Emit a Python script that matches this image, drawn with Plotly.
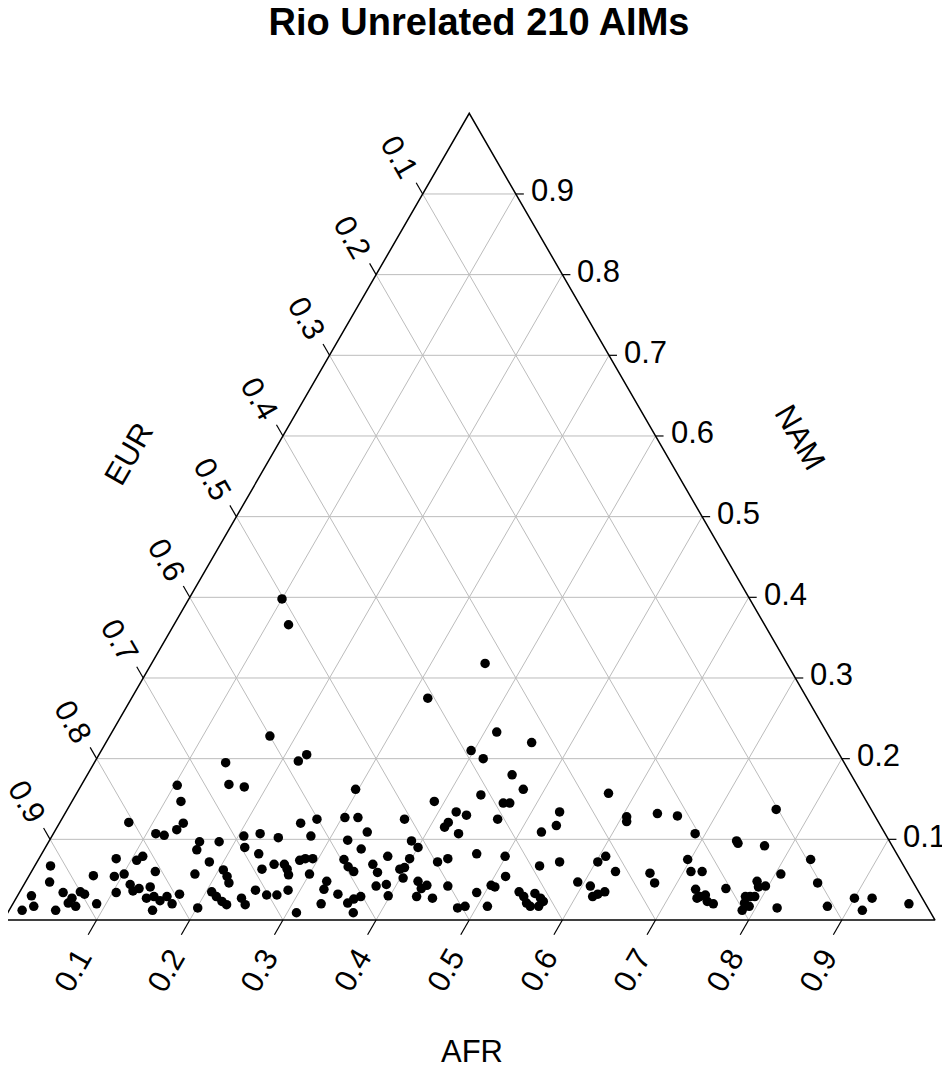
import numpy as np
import plotly.graph_objects as go

TITLE = "Rio Unrelated 210 AIMs"
AXIS_BOTTOM = "AFR"
AXIS_RIGHT = "NAM"
AXIS_LEFT = "EUR"
TICKS = [0.1, 0.2, 0.3, 0.4, 0.5, 0.6, 0.7, 0.8, 0.9]
TICK_LABELS = ["0.1", "0.2", "0.3", "0.4", "0.5", "0.6", "0.7", "0.8", "0.9"]

# ancestry proportions per individual (EUR = 1 - AFR - NAM)
afr = [
    0.103, 0.158, 0.117, 0.074, 0.133, 0.130, 0.110, 0.120, 0.162, 0.164,
    0.183, 0.083, 0.106, 0.110, 0.017, 0.185, 0.069, 0.092, 0.101, 0.133,
    0.177, 0.205, 0.213, 0.026, 0.104, 0.114, 0.121, 0.126, 0.137, 0.047,
    0.060, 0.065, 0.071, 0.059, 0.069, 0.015, 0.024, 0.014, 0.050, 0.090,
    0.140, 0.147, 0.156, 0.161, 0.171, 0.154, 0.173, 0.201, 0.206, 0.214,
    0.223, 0.230, 0.219,
    0.176, 0.297, 0.389, 0.259, 0.274, 0.303, 0.317, 0.368, 0.419, 0.432,
    0.417, 0.416, 0.435, 0.222, 0.244, 0.278, 0.336, 0.206, 0.214, 0.233,
    0.320, 0.340, 0.389, 0.400, 0.373, 0.398, 0.439, 0.430, 0.246, 0.256,
    0.267, 0.273, 0.278, 0.281, 0.286, 0.294, 0.300, 0.328, 0.337, 0.346,
    0.362, 0.372, 0.394, 0.398, 0.403, 0.421, 0.429, 0.433, 0.429, 0.447,
    0.456, 0.323, 0.325, 0.343, 0.252, 0.267, 0.278, 0.287, 0.242, 0.250,
    0.331, 0.310, 0.359, 0.363, 0.369, 0.371, 0.379, 0.389, 0.398, 0.480,
    0.487,
    0.456, 0.477, 0.435, 0.464, 0.471, 0.468, 0.530, 0.535, 0.523, 0.571,
    0.605, 0.608, 0.636, 0.659, 0.689, 0.467, 0.499, 0.542, 0.561, 0.512,
    0.502, 0.507, 0.491, 0.511, 0.536, 0.544, 0.551, 0.557, 0.554, 0.563,
    0.568, 0.566, 0.602, 0.607, 0.627, 0.593, 0.609, 0.618, 0.622, 0.628,
    0.665, 0.676, 0.697, 0.708, 0.720, 0.724, 0.733, 0.738, 0.744, 0.731,
    0.761, 0.738, 0.741, 0.771, 0.829, 0.806, 0.851, 0.756, 0.785, 0.790,
    0.797, 0.782, 0.787, 0.792, 0.785, 0.792, 0.787, 0.752, 0.823, 0.876,
    0.900, 0.919, 0.916, 0.962,
    0.100, 0.123, 0.358, 0.318, 0.172, 0.141, 0.218, 0.223, 0.397, 0.413,
    0.457, 0.415,
]

nam = [
    0.167, 0.168, 0.147, 0.121, 0.120, 0.112, 0.107, 0.105, 0.097, 0.087,
    0.097, 0.076, 0.074, 0.079, 0.067, 0.072, 0.055, 0.054, 0.057, 0.060,
    0.057, 0.062, 0.054, 0.047, 0.034, 0.044, 0.036, 0.039, 0.041, 0.034,
    0.027, 0.035, 0.032, 0.021, 0.017, 0.030, 0.017, 0.012, 0.012, 0.020,
    0.027, 0.029, 0.024, 0.029, 0.020, 0.012, 0.032, 0.015, 0.035, 0.029,
    0.023, 0.019, 0.046,
    0.165, 0.162, 0.147, 0.120, 0.125, 0.127, 0.127, 0.125, 0.134, 0.130,
    0.121, 0.115, 0.107, 0.107, 0.102, 0.104, 0.109, 0.104, 0.090, 0.082,
    0.099, 0.088, 0.098, 0.090, 0.079, 0.076, 0.076, 0.072, 0.063, 0.069,
    0.069, 0.063, 0.056, 0.074, 0.076, 0.076, 0.057, 0.075, 0.066, 0.060,
    0.069, 0.059, 0.063, 0.065, 0.052, 0.048, 0.039, 0.043, 0.029, 0.027,
    0.042, 0.048, 0.038, 0.032, 0.037, 0.031, 0.031, 0.037, 0.027, 0.019,
    0.020, 0.009, 0.021, 0.026, 0.029, 0.009, 0.042, 0.044, 0.030, 0.015,
    0.017,
    0.180, 0.162, 0.155, 0.145, 0.145, 0.125, 0.134, 0.117, 0.109, 0.157,
    0.128, 0.122, 0.132, 0.129, 0.107, 0.082, 0.079, 0.067, 0.072, 0.054,
    0.043, 0.041, 0.034, 0.017, 0.035, 0.029, 0.021, 0.017, 0.033, 0.027,
    0.023, 0.017, 0.072, 0.079, 0.060, 0.047, 0.042, 0.029, 0.032, 0.035,
    0.058, 0.046, 0.075, 0.060, 0.060, 0.038, 0.029, 0.031, 0.023, 0.027,
    0.137, 0.098, 0.095, 0.092, 0.075, 0.057, 0.046, 0.039, 0.048, 0.041,
    0.042, 0.029, 0.029, 0.029, 0.021, 0.017, 0.012, 0.020, 0.015, 0.017,
    0.027, 0.027, 0.012, 0.020,
    0.398, 0.366, 0.318, 0.275, 0.228, 0.195, 0.197, 0.205, 0.210, 0.233,
    0.220, 0.200,
]

H = np.sqrt(3) / 2
PX = 1 / 931.5  # one screen pixel in triangle units (side length = 1)
OFF = 8  # the page body margin shifts the plot div by 8px
FONT = "Liberation Sans, Arial, sans-serif"


def tern_xy(a, n):
    # AFR vertex bottom-right, NAM vertex top, EUR vertex bottom-left
    a = np.asarray(a, dtype=float)
    n = np.asarray(n, dtype=float)
    return a + n / 2, n * H


def segs(pairs):
    xs, ys = [], []
    for (x0, y0), (x1, y1) in pairs:
        xs += [x0, x1, None]
        ys += [y0, y1, None]
    return xs, ys


grid, ticks = [], []
annots = []
for v, lab in zip(TICKS, TICK_LABELS):
    grid.append(((v / 2, v * H), (1 - v / 2, v * H)))
    grid.append(((v, 0), (v + (1 - v) / 2, (1 - v) * H)))
    grid.append((((1 - v) / 2, (1 - v) * H), (1 - v, 0)))

    # bottom edge: AFR
    bx, by = v, 0.0
    ticks.append(((bx, by), (bx - 0.5 * 17 * PX, by - H * 17 * PX)))
    annots.append(dict(x=bx - 24 * PX, y=by - 50 * PX, text=lab, textangle=-60))
    # left edge: EUR
    lx, ly = (1 - v) / 2, (1 - v) * H
    ticks.append(((lx, ly), (lx - 0.5 * 13 * PX, ly + H * 13 * PX)))
    annots.append(dict(x=lx - 23.5 * PX, y=ly + 37.5 * PX, text=lab, textangle=60))
    # right edge: NAM
    rx, ry = 1 - v / 2, v * H
    ticks.append(((rx, ry), (rx + 8 * PX, ry)))
    annots.append(dict(x=rx + 13 * PX, y=ry + 3 * PX, text=lab, xanchor="left"))

# axis titles
annots.append(dict(x=0.5 + 3 * PX, y=-131 * PX, text=AXIS_BOTTOM))
annots.append(dict(x=0.25 - 125 * PX * H, y=H / 2 + 125 * PX * 0.5,
                   text=AXIS_LEFT, textangle=-60))
annots.append(dict(x=0.75 + 125 * PX * H - 10 * PX, y=H / 2 + 125 * PX * 0.5 + 17 * PX,
                   text=AXIS_RIGHT, textangle=60))

fig = go.Figure()

gx, gy = segs(grid)
fig.add_trace(go.Scatter(x=gx, y=gy, mode="lines", hoverinfo="skip",
                         line=dict(color="#bcbcbc", width=1)))

tx, ty = segs(ticks)
fig.add_trace(go.Scatter(x=tx, y=ty, mode="lines", hoverinfo="skip",
                         line=dict(color="black", width=1.2)))

fig.add_trace(go.Scatter(x=[0, 1, 0.5, 0], y=[0, 0, H, 0], mode="lines",
                         hoverinfo="skip", line=dict(color="black", width=1.5)))

px_, py_ = tern_xy(afr, nam)
eur = 1 - np.asarray(afr) - np.asarray(nam)
fig.add_trace(go.Scatter(
    x=px_, y=py_, mode="markers", cliponaxis=False,
    marker=dict(color="black", size=9.5, line=dict(width=0)),
    customdata=np.stack([afr, nam, eur], axis=1),
    hovertemplate="AFR %{customdata[0]:.3f}<br>NAM %{customdata[1]:.3f}"
                  "<br>EUR %{customdata[2]:.3f}<extra></extra>",
))

for a in annots:
    a.setdefault("xanchor", "center")
    a.update(xref="x", yref="y", showarrow=False, yanchor="middle",
             font=dict(family=FONT, size=31, color="black"))

fig.update_layout(
    width=950, height=1068,
    margin=dict(l=0, r=0, t=0, b=0),
    paper_bgcolor="white", plot_bgcolor="white",
    showlegend=False,
    title=dict(text="<b>" + TITLE + "</b>", x=0.5 - 4 / 950, xanchor="center",
               y=1 - (22 - OFF) / 1068, yanchor="middle",
               font=dict(family=FONT, size=38, color="black")),
    xaxis=dict(range=[(OFF - 3.5) * PX, (OFF + 950 - 3.5) * PX],
               visible=False, fixedrange=True),
    yaxis=dict(range=[(920 - OFF - 1068) * PX, (920 - OFF) * PX],
               visible=False, fixedrange=True),
    annotations=annots,
)

fig.write_html("out.html")
